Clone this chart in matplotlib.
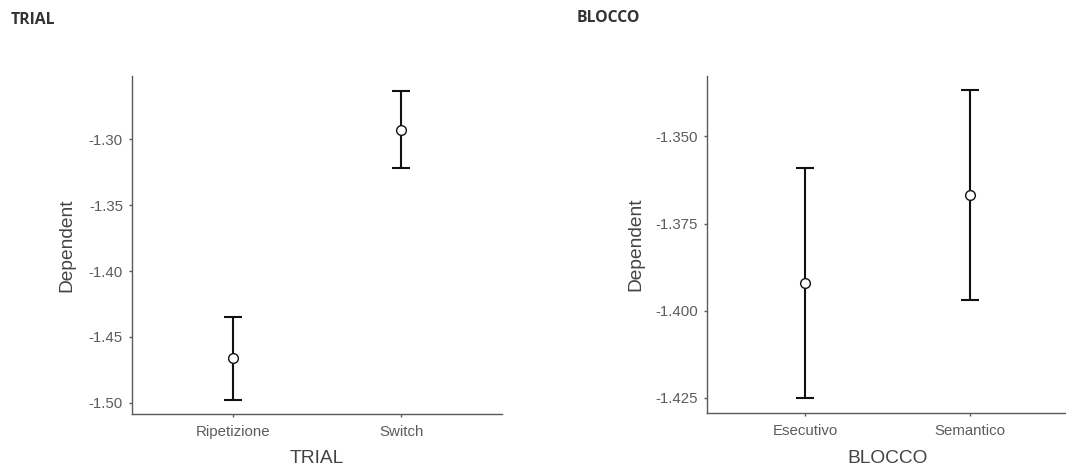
import matplotlib
matplotlib.use("Agg")
import matplotlib.pyplot as plt

trial_cats = ["Ripetizione", "Switch"]
trial_mean = [-1.4662, -1.2927]
trial_lower = [-1.4976, -1.3216]
trial_upper = [-1.4353, -1.2635]
trial_ticks = [-1.50, -1.45, -1.40, -1.35, -1.30]

blocco_cats = ["Esecutivo", "Semantico"]
blocco_mean = [-1.3921, -1.3668]
blocco_lower = [-1.4250, -1.3969]
blocco_upper = [-1.3591, -1.3368]
blocco_ticks = [-1.425, -1.400, -1.375, -1.350]

plt.rcParams['font.family'] = ['Liberation Sans', 'DejaVu Sans']

fig = plt.figure(figsize=(10.66, 4.70), dpi=100)

def panel(rect, cats, mean, lower, upper, ticks, ylim, fmt, xlabel, ylabelpad):
    ax = fig.add_axes(rect)
    x = list(range(1, len(cats) + 1))
    yerr = [[m - l for m, l in zip(mean, lower)], [u - m for m, u in zip(mean, upper)]]
    ax.errorbar(x, mean, yerr=yerr, fmt='none', ecolor='#111111', elinewidth=1.5,
                capsize=6.2, capthick=1.5, zorder=2)
    ax.plot(x, mean, 'o', ms=7, mfc='white', mec='#111111', mew=1.0, zorder=3)
    ax.set_xlim(0.4, 2.6)
    ax.set_ylim(*ylim)
    ax.set_xticks(x)
    ax.set_xticklabels(cats)
    ax.set_yticks(ticks)
    ax.set_yticklabels([fmt.format(t) for t in ticks])
    for s in ['top', 'right']:
        ax.spines[s].set_visible(False)
    for s in ['left', 'bottom']:
        ax.spines[s].set_color('#5a5a5a')
        ax.spines[s].set_linewidth(1.0)
    ax.tick_params(axis='both', colors='#5a5a5a', labelcolor='#5c5c5c', labelsize=10.8,
                   length=2.5, width=1.0)
    ax.tick_params(axis='y', pad=4)
    ax.tick_params(axis='x', pad=5.5)
    ax.set_ylabel('Dependent', fontsize=13.8, color='#444444', labelpad=ylabelpad)
    ax.set_xlabel(xlabel, fontsize=13.8, color='#444444', labelpad=8)
    return ax

panel([132/1066, 56/470, 370/1066, 338/470], trial_cats, trial_mean, trial_lower,
      trial_upper, trial_ticks, (-1.5086, -1.2519), '{:.2f}', 'TRIAL', 9.5)
panel([707/1066, 56.7/470, 361/1066, 337.3/470], blocco_cats, blocco_mean, blocco_lower,
      blocco_upper, blocco_ticks, (-1.4294, -1.3327), '{:.3f}', 'BLOCCO', 8)

fig.text(11/1066, 1 - 19.5/470, 'TRIAL', fontsize=11.3, fontweight='bold', color='#333333',
         family=['Open Sans', 'DejaVu Sans'], va='center', ha='left')
fig.text(577/1066, 1 - 18.5/470, 'BLOCCO', fontsize=11.3, fontweight='bold', color='#333333',
         family=['Open Sans', 'DejaVu Sans'], va='center', ha='left')

fig.savefig('out.png', dpi=100)
